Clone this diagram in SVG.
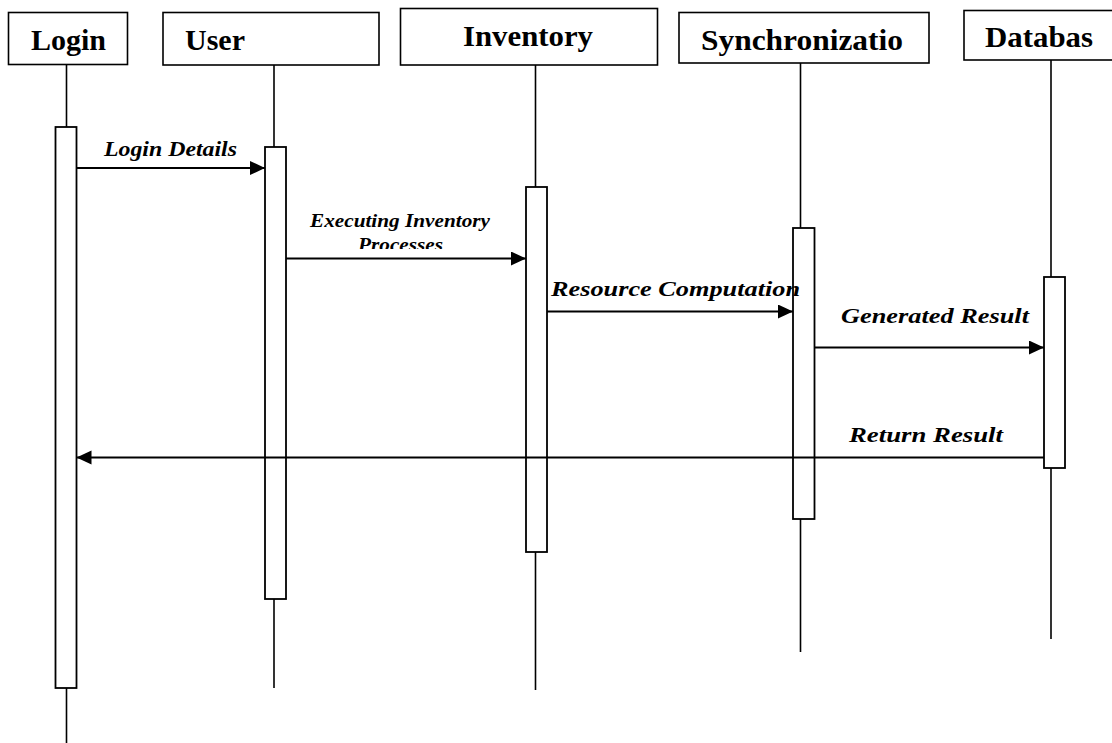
<svg xmlns="http://www.w3.org/2000/svg" width="1112" height="743" viewBox="0 0 1112 743">
<style>
  .hdr{fill:#fff;stroke:#000;stroke-width:1.6}
  .hdrtxt{font-family:"Liberation Serif",serif;font-weight:bold;font-size:30px;fill:#000}
  .life{stroke:#000;stroke-width:1.6;fill:none}
  .act{fill:#fff;stroke:#000;stroke-width:1.8}
  .msg{stroke:#000;stroke-width:2.2;fill:none}
  .lbl{font-family:"Liberation Serif",serif;font-weight:bold;font-style:italic;font-size:22px;fill:#000}
  .lbls{font-family:"Liberation Serif",serif;font-weight:bold;font-style:italic;font-size:19px;fill:#000}
</style>
<defs>
  <marker id="arr" markerUnits="userSpaceOnUse" markerWidth="16" markerHeight="15" refX="15" refY="7" orient="auto">
    <path d="M0,0 L15,7 L0,14 z" fill="#000"/>
  </marker>
  <clipPath id="clipProc"><rect x="300" y="200" width="220" height="49"/></clipPath>
</defs>
<rect width="1112" height="743" fill="#fff"/>

<g id="login">
  <line class="life" x1="66.5" y1="64" x2="66.5" y2="743"/>
  <rect class="hdr" x="8.5" y="12.5" width="119" height="52"/>
  <text class="hdrtxt" x="31" y="50">Login</text>
  <rect class="act" x="55.5" y="127" width="21" height="561"/>
</g>

<g id="user">
  <line class="life" x1="274" y1="65" x2="274" y2="688"/>
  <rect class="hdr" x="163" y="12.5" width="216" height="52.5"/>
  <text class="hdrtxt" x="185" y="50">User</text>
  <rect class="act" x="265" y="147" width="21" height="452"/>
</g>

<g id="inventory">
  <line class="life" x1="535.5" y1="65" x2="535.5" y2="690"/>
  <rect class="hdr" x="400.5" y="8.5" width="257" height="56.5"/>
  <text class="hdrtxt" x="463" y="46" textLength="130" lengthAdjust="spacingAndGlyphs">Inventory</text>
  <rect class="act" x="526" y="187" width="21" height="365"/>
</g>

<g id="synchronization">
  <line class="life" x1="800.5" y1="63" x2="800.5" y2="652"/>
  <rect class="hdr" x="679" y="12.5" width="250" height="50.5"/>
  <text class="hdrtxt" x="701" y="50" textLength="202" lengthAdjust="spacingAndGlyphs">Synchronizatio</text>
  <rect class="act" x="793" y="228" width="21.5" height="291"/>
</g>

<g id="database">
  <line class="life" x1="1051" y1="60" x2="1051" y2="639"/>
  <rect class="hdr" x="964" y="10.5" width="160" height="49.5"/>
  <text class="hdrtxt" x="985" y="47" textLength="108" lengthAdjust="spacingAndGlyphs">Databas</text>
  <rect class="act" x="1044" y="277" width="21" height="191"/>
</g>

<g id="connectors">
  <line class="msg" x1="76.5" y1="168" x2="265" y2="168" marker-end="url(#arr)"/>
  <text class="lbl" x="104" y="156" textLength="133" lengthAdjust="spacingAndGlyphs">Login Details</text>

  <line class="msg" x1="286" y1="258.5" x2="526" y2="258.5" marker-end="url(#arr)"/>
  <text class="lbls" x="310" y="226.5" textLength="180" lengthAdjust="spacingAndGlyphs">Executing Inventory</text>
  <text class="lbls" x="358" y="251" textLength="85" lengthAdjust="spacingAndGlyphs" clip-path="url(#clipProc)">Processes</text>

  <line class="msg" x1="547" y1="311.5" x2="793" y2="311.5" marker-end="url(#arr)"/>
  <text class="lbl" x="551" y="296" font-size="23" textLength="249" lengthAdjust="spacingAndGlyphs">Resource Computation</text>

  <line class="msg" x1="814.5" y1="347.5" x2="1044" y2="347.5" marker-end="url(#arr)"/>
  <text class="lbl" x="841" y="323" font-size="23" textLength="188" lengthAdjust="spacingAndGlyphs">Generated Result</text>

  <line class="msg" x1="1044" y1="457.5" x2="76.5" y2="457.5" stroke-width="2.6" marker-end="url(#arr)"/>
  <text class="lbl" x="849" y="441.5" textLength="154" lengthAdjust="spacingAndGlyphs">Return Result</text>
</g>
</svg>
